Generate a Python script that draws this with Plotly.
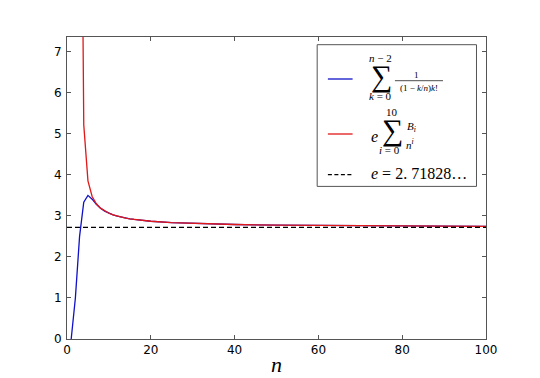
import plotly.graph_objects as go

# ---- data ----
blue_n = [1, 2, 3, 4, 5, 6, 7, 8, 9, 10, 11, 12, 13, 14, 15, 16, 18, 20, 25, 30, 40, 50, 60, 70, 80, 90, 100]
blue_v = [0.0, 1.0, 2.5, 3.333, 3.5, 3.408, 3.285, 3.187, 3.117, 3.065, 3.025, 2.993, 2.968, 2.947,
          2.929, 2.914, 2.889, 2.870, 2.837, 2.816, 2.790, 2.775, 2.765, 2.758, 2.753, 2.749, 2.746]
red_n = [2, 3, 4, 5, 6, 7, 8, 9, 10, 11, 12, 13, 14, 15, 16, 18, 20, 25, 30, 40, 50, 60, 70, 80, 90, 100]
red_v = [505.4, 17.64, 5.219, 3.855, 3.473, 3.295, 3.189, 3.117, 3.065, 3.025, 2.993, 2.968, 2.947,
         2.929, 2.914, 2.889, 2.870, 2.837, 2.816, 2.790, 2.775, 2.765, 2.758, 2.753, 2.749, 2.746]
e_n = [0, 100]
e_v = [2.71828, 2.71828]
x_ticks = [0, 20, 40, 60, 80, 100]
y_ticks = [0, 1, 2, 3, 4, 5, 6, 7]

W, H = 540, 378
L, R, T, B = 67.3, 486.0, 37.3, 339.3

def px(x):
    return (x - L) / (R - L)

def py(y):
    return (B - y) / (B - T)

fig = go.Figure()
fig.add_trace(go.Scatter(x=blue_n, y=blue_v, mode="lines",
                         line=dict(color="#1010c8", width=1.3), showlegend=False))
fig.add_trace(go.Scatter(x=red_n, y=red_v, mode="lines",
                         line=dict(color="#e01818", width=1.3), showlegend=False))
fig.add_trace(go.Scatter(x=e_n, y=e_v, mode="lines",
                         line=dict(color="black", width=1.3, dash="5px,3px"), showlegend=False))

SERIF = "Liberation Serif"
ann = []
shapes = []

def txt(x, y, s, size, xanchor="center"):
    ann.append(dict(x=px(x), y=py(y), xref="paper", yref="paper", text=s, showarrow=False,
                    xanchor=xanchor, yanchor="middle", font=dict(family=SERIF, size=size, color="black")))

def hline(x0, x1, y, color, width=1.3, dash=None):
    ln = dict(color=color, width=width)
    if dash:
        ln["dash"] = dash
    shapes.append(dict(type="line", xref="paper", yref="paper", x0=px(x0), x1=px(x1),
                       y0=py(y), y1=py(y), line=ln, layer="above"))

# legend frame
shapes.append(dict(type="rect", xref="paper", yref="paper", x0=px(317.3), x1=px(476.5),
                   y0=py(186.7), y1=py(45), line=dict(color="#555", width=1),
                   fillcolor="white", layer="above"))

# entry 1
hline(328, 352.7, 79.3, "#1010c8")
txt(381, 58, "<i>n</i> − 2", 11)
txt(381.5, 76, "∑", 30)
txt(381, 96.5, "<i>k</i> = 0", 11)
txt(417, 75, "1", 9)
hline(395, 443, 81, "black", width=0.7)
txt(419, 88.5, "(1 − <i>k</i>/<i>n</i>)<i>k</i>!", 9)

# entry 2
hline(328, 352.7, 134.3, "#e01818")
txt(375, 136.5, "<i>e</i>", 16)
txt(392, 112.5, "10", 11)
txt(392.5, 130.5, "∑", 30)
txt(390, 150.5, "<i>i</i> = 0", 11)
txt(412, 127.5, "<i>B<sub>i</sub></i>", 11)
txt(410.5, 144, "<i>n<sup>i</sup></i>", 11)

# entry 3
hline(328, 352.7, 175, "black", dash="4px,2.5px")
txt(369, 173.5, "<i>e</i> = 2. 71828…", 16, xanchor="left")

fig.update_layout(
    width=W, height=H,
    margin=dict(l=L, r=W - R, t=T, b=H - B, pad=0, autoexpand=False),
    paper_bgcolor="white", plot_bgcolor="white",
    annotations=ann, shapes=shapes,
    font=dict(family="DejaVu Sans", size=12, color="black"),
)
fig.update_xaxes(range=[0, 100], tickvals=x_ticks, ticks="inside", ticklen=4, tickcolor="#555",
                 showline=True, linecolor="#555", linewidth=1, mirror="ticks",
                 showgrid=False, zeroline=False, automargin=False,
                 title=dict(text="<i>n</i>", font=dict(family=SERIF, size=22), standoff=0))
fig.update_yaxes(range=[0, 7.36], tickvals=y_ticks, ticks="inside", ticklen=4, tickcolor="#555",
                 showline=True, linecolor="#555", linewidth=1, mirror="ticks",
                 showgrid=False, zeroline=False, automargin=False, ticklabelstandoff=2)

fig.write_html("out.html", config={"displayModeBar": False},
               post_script="document.body.style.margin='0px';")
